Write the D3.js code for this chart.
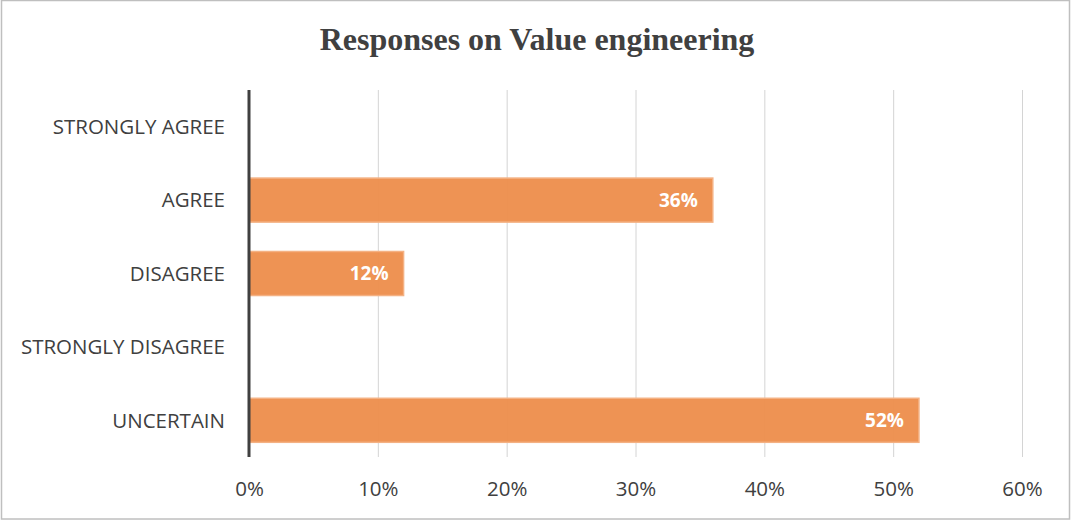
<!DOCTYPE html>
<html><head><meta charset="utf-8">
<script src="https://cdn.jsdelivr.net/npm/d3@7"></script>
<style>body{margin:0;background:#fff}svg{display:block}</style>
</head><body><div id="chart"></div>
<script>
const categories = ["STRONGLY AGREE","AGREE","DISAGREE","STRONGLY DISAGREE","UNCERTAIN"];
const values = [0, 36, 12, 0, 52];
const tickValues = [0,10,20,30,40,50,60];
const title = "Responses on Value engineering";

(function(){
const W = 1071, H = 521;
const svg = d3.select("#chart").append("svg").attr("width", W).attr("height", H);
svg.append("rect").attr("x",1.5).attr("y",0.5).attr("width",W-3).attr("height",H-2.5)
  .attr("fill","#fff").attr("stroke","#bfbfbf").attr("stroke-width",1.5);

const pL = 249, pR = 1022, pT = 90, pB = 457;
const x = d3.scaleLinear().domain([0,60]).range([pL,pR]);
const y = d3.scaleBand().domain(categories).range([pT,pB]).paddingInner(0.4).paddingOuter(0.2);

svg.append("text").attr("x",537).attr("y",50).attr("text-anchor","middle")
  .attr("font-family","'Liberation Serif','Times New Roman',serif").attr("font-weight","bold")
  .attr("font-size",32).attr("fill","#404040").text(title);

svg.append("g").selectAll("line").data(tickValues.slice(1)).join("line")
  .attr("x1",d=>x(d)+0.5).attr("x2",d=>x(d)+0.5).attr("y1",pT).attr("y2",pB)
  .attr("stroke","#d4d4d4").attr("stroke-width",1);

const rows = values.map((v,i)=>({c:categories[i],v})).filter(d=>d.v>0);
svg.append("g").selectAll("rect").data(rows).join("rect")
  .attr("x",x(0)).attr("y",d=>y(d.c)).attr("width",d=>x(d.v)-x(0)).attr("height",y.bandwidth())
  .attr("fill","#ed8f4e").attr("fill-opacity",0.97).attr("stroke","#f4b183").attr("stroke-width",1.5);

svg.append("g").selectAll("text").data(rows).join("text")
  .attr("x",d=>x(d.v)-15).attr("y",d=>y(d.c)+y.bandwidth()/2).attr("dy","0.36em")
  .attr("text-anchor","end").attr("font-family","'Open Sans',sans-serif").attr("font-weight","bold")
  .attr("font-size",19).attr("fill","#fff").text(d=>d.v+"%");

svg.append("line").attr("x1",x(0)).attr("x2",x(0)).attr("y1",pT).attr("y2",pB)
  .attr("stroke","#404040").attr("stroke-width",3);

svg.append("g").selectAll("text").data(categories).join("text")
  .attr("x",225).attr("y",d=>y(d)+y.bandwidth()/2).attr("dy","0.36em").attr("text-anchor","end")
  .attr("font-family","'Open Sans',sans-serif").attr("font-size",20.5).attr("fill","#404040").text(d=>d);

const xAxis = d3.axisBottom(x).tickValues(tickValues).tickFormat(d=>d+"%").tickSize(0);
const gx = svg.append("g").attr("transform",`translate(0,${pB})`).call(xAxis);
gx.select(".domain").remove();
gx.selectAll("text").attr("y",39).attr("dy","0").attr("font-family","'Open Sans',sans-serif")
  .attr("font-size",20.5).attr("fill","#404040");
})();
</script></body></html>
